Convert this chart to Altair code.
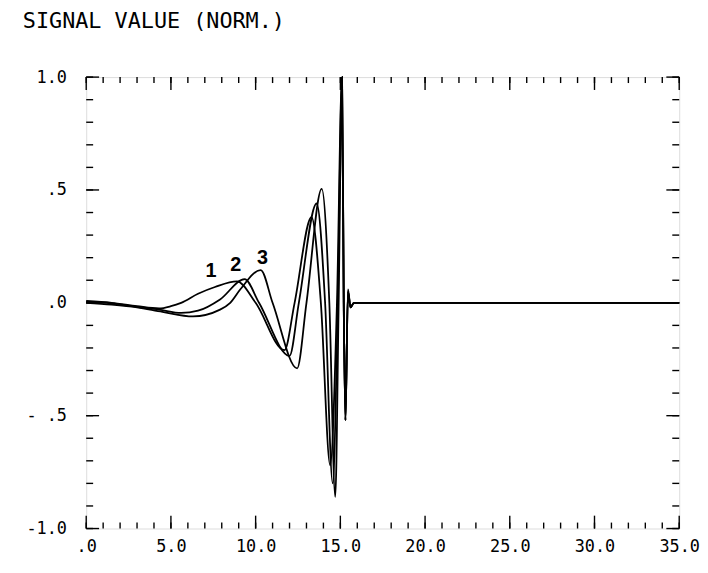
import altair as alt
import pandas as pd

# ---- data ----
curve_names = ["1", "2", "3"]

c1_x = [0.0, 1.5, 3.0, 4.3, 5.0, 5.6, 6.6, 7.6, 8.9, 10.0, 11.7, 12.3, 13.3, 13.85, 14.4, 14.8, 15.1, 15.2, 15.3, 15.45, 15.6, 15.8, 35.0]
c1_y = [0.008, 0.0, -0.015, -0.025, -0.015, 0.0, 0.04, 0.07, 0.095, 0.0, -0.21, 0.0, 0.38, 0.0, -0.72, 0.0, 1.0, 0.0, -0.52, 0.06, -0.02, 0.0, 0.0]

c2_x = [0.0, 1.5, 3.0, 4.3, 5.6, 6.6, 7.9, 9.35, 10.2, 12.0, 12.55, 13.6, 14.1, 14.55, 14.85, 15.1, 15.2, 15.3, 15.45, 15.6, 15.8, 35.0]
c2_y = [0.005, -0.003, -0.018, -0.03, -0.045, -0.035, 0.015, 0.105, 0.0, -0.235, 0.0, 0.44, 0.0, -0.8, 0.0, 1.0, 0.0, -0.52, 0.05, -0.02, 0.0, 0.0]

c3_x = [0.0, 1.5, 3.0, 4.5, 6.3, 7.9, 8.5, 9.1, 10.3, 11.0, 12.45, 13.0, 13.9, 14.35, 14.7, 14.9, 15.1, 15.2, 15.3, 15.45, 15.6, 15.8, 35.0]
c3_y = [0.0, -0.008, -0.02, -0.04, -0.06, -0.03, 0.0, 0.06, 0.145, 0.0, -0.29, 0.0, 0.505, 0.0, -0.86, 0.0, 1.0, 0.0, -0.52, 0.05, -0.02, 0.0, 0.0]

label_text = ["1", "2", "3"]
label_x = [7.36, 8.83, 10.4]
label_y = [0.142, 0.168, 0.20]

x_major = [0, 5, 10, 15, 20, 25, 30, 35]
x_major_labels = [".0", "5.0", "10.0", "15.0", "20.0", "25.0", "30.0", "35.0"]
x_minor = list(range(0, 36))
y_major = [-1.0, -0.5, 0.0, 0.5, 1.0]
y_major_labels = ["-1.0", "- .5", ".0", ".5", "1.0"]
y_minor = [-1.0, -0.9, -0.8, -0.7, -0.6, -0.5, -0.4, -0.3, -0.2, -0.1, 0.0,
           0.1, 0.2, 0.3, 0.4, 0.5, 0.6, 0.7, 0.8, 0.9, 1.0]

title_text = "SIGNAL VALUE (NORM.)"

# ---- build tables ----
rows = []
for name, xs, ys in zip(curve_names, [c1_x, c2_x, c3_x], [c1_y, c2_y, c3_y]):
    for i, (a, b) in enumerate(zip(xs, ys)):
        rows.append({"t": a, "v": b, "curve": name, "order": i})
df = pd.DataFrame(rows)
lab_df = pd.DataFrame({"t": label_x, "v": label_y, "text": label_text})
xmaj_df = pd.DataFrame({"t": x_major})
xmin_df = pd.DataFrame({"t": x_minor})
ymaj_df = pd.DataFrame({"v": y_major})
ymin_df = pd.DataFrame({"v": y_minor})


def label_expr(values, labels):
    expr = "''"
    for val, lab in reversed(list(zip(values, labels))):
        expr = f"abs(datum.value - ({val})) < 1e-6 ? '{lab}' : ({expr})"
    return expr


W, H = 599, 456
FONT = "DejaVu Sans Mono"
xscale = alt.Scale(domain=[0, 35], nice=False, zero=False)
yscale = alt.Scale(domain=[-1, 1], nice=False, zero=False)

xaxis = alt.Axis(values=x_major, labelExpr=label_expr(x_major, x_major_labels),
                 title=None, ticks=False, tickSize=0, domain=False, grid=False,
                 labelFont=FONT, labelFontSize=17, labelColor="black",
                 labelPadding=10, labelFlush=False, labelOverlap=False,
                 labelBound=False, labelBaseline="top")
yaxis = alt.Axis(values=y_major, labelExpr=label_expr(y_major, y_major_labels),
                 title=None, ticks=False, tickSize=0, domain=False, grid=False,
                 labelFont=FONT, labelFontSize=17, labelColor="black",
                 labelPadding=20, labelFlush=False, labelOverlap=False,
                 labelBound=False, labelBaseline="middle")

X = lambda f: alt.X(f"{f}:Q", scale=xscale, axis=xaxis)
Y = lambda f: alt.Y(f"{f}:Q", scale=yscale, axis=yaxis)

lines = alt.Chart(df).mark_line(color="black", strokeWidth=1.8, interpolate="monotone").encode(
    x=X("t"), y=Y("v"), detail="curve:N", order="order:Q"
)

labels = alt.Chart(lab_df).mark_text(font="Liberation Sans", fontSize=20, fontWeight="bold",
                                     color="black", baseline="middle", align="center").encode(
    x=X("t"), y=Y("v"), text="text:N"
)

tick_style = dict(color="black", strokeWidth=1.4)
MAJ, MIN = 13, 6

bx_maj = alt.Chart(xmaj_df).mark_rule(**tick_style).encode(x=X("t"), y=alt.value(H), y2=alt.value(H - MAJ))
bx_min = alt.Chart(xmin_df).mark_rule(**tick_style).encode(x=X("t"), y=alt.value(H), y2=alt.value(H - MIN))
tx_maj = alt.Chart(xmaj_df).mark_rule(**tick_style).encode(x=X("t"), y=alt.value(0), y2=alt.value(MAJ))
tx_min = alt.Chart(xmin_df).mark_rule(**tick_style).encode(x=X("t"), y=alt.value(0), y2=alt.value(MIN))
ly_maj = alt.Chart(ymaj_df).mark_rule(**tick_style).encode(y=Y("v"), x=alt.value(0), x2=alt.value(MAJ))
ly_min = alt.Chart(ymin_df).mark_rule(**tick_style).encode(y=Y("v"), x=alt.value(0), x2=alt.value(MIN + 1))
ry_maj = alt.Chart(ymaj_df).mark_rule(**tick_style).encode(y=Y("v"), x=alt.value(W), x2=alt.value(W - MAJ))
ry_min = alt.Chart(ymin_df).mark_rule(**tick_style).encode(y=Y("v"), x=alt.value(W), x2=alt.value(W - MIN - 1))

chart = alt.layer(
    lines, labels, bx_maj, bx_min, tx_maj, tx_min, ly_maj, ly_min, ry_maj, ry_min
).properties(
    width=W, height=H,
    autosize=alt.AutoSizeParams(type="none"),
    padding={"left": 79, "top": 67, "right": 21, "bottom": 30},
    title=alt.TitleParams(title_text, anchor="start", frame="group", dx=-64, offset=36,
                          font=FONT, fontSize=22, fontWeight="normal", color="black"),
).configure_view(stroke="black", strokeWidth=1.6).configure(background="white")

chart.save("out.html", embed_options={"renderer": "svg", "actions": False})
